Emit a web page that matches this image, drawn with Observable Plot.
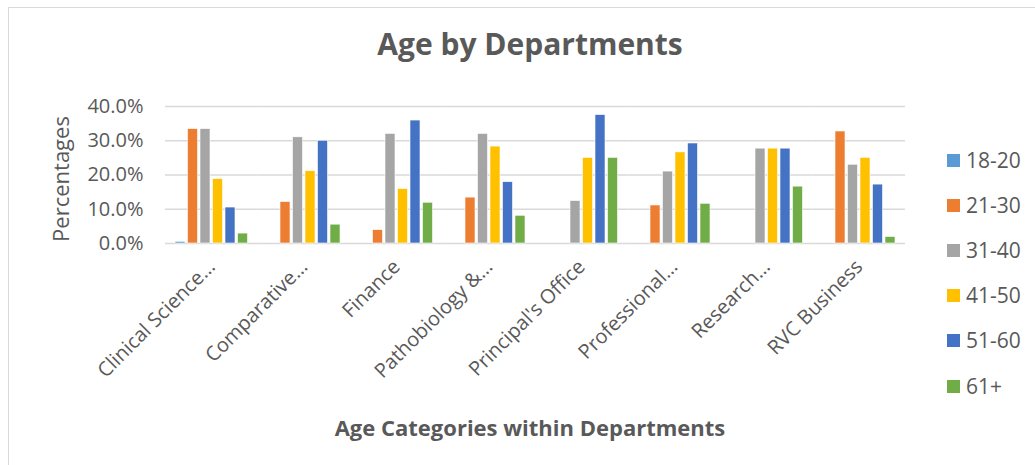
<!DOCTYPE html>
<html>
<head>
<meta charset="utf-8">
<script src="https://cdn.jsdelivr.net/npm/d3@7"></script>
<script src="https://cdn.jsdelivr.net/npm/@observablehq/plot@0.6"></script>
<style>
  body { margin: 0; background: #fff; font-family: "Open Sans", sans-serif; }
  #chart { position: relative; width: 1035px; height: 465px; overflow: hidden; background: #fff; }
  #frame { position: absolute; left: 8px; top: 7px; width: 1200px; height: 700px;
           border-top: 1.5px solid #d9d9d9; border-left: 1.5px solid #d9d9d9; }
  #title { position: absolute; left: 0; width: 1060px; top: 29px; text-align: center;
           font-size: 30px; font-weight: 700; color: #595959; line-height: 1; }
  #xtitle { position: absolute; left: 0; width: 1060px; top: 416px; text-align: center;
            font-size: 22px; font-weight: 700; color: #595959; line-height: 1; }
  #ytitle { position: absolute; left: 60px; top: 179px; transform: translate(-50%, -50%) rotate(-90deg);
            font-size: 22px; color: #595959; line-height: 1; white-space: nowrap; }
  #legend { position: absolute; left: 947px; top: 0; }
  .item { position: absolute; left: 0; display: flex; align-items: center; white-space: nowrap;
          font-size: 21px; color: #595959; line-height: 1; }
  .sw { width: 13px; height: 13px; margin-right: 6px; }
  #plot { position: absolute; left: 0; top: 0; }
</style>
</head>
<body>
<div id="chart">
  <div id="frame"></div>
  <div id="title">Age by Departments</div>
  <div id="plot"></div>
  <div id="ytitle">Percentages</div>
  <div id="legend"></div>
  <div id="xtitle">Age Categories within Departments</div>
</div>
<script>
const departments = ["Clinical Science…", "Comparative…", "Finance", "Pathobiology &…",
                     "Principal's Office", "Professional…", "Research…", "RVC Business"];
const ageGroups = ["18-20", "21-30", "31-40", "41-50", "51-60", "61+"];
const age18_20  = [0.5, 0, 0, 0, 0, 0, 0, 0];
const age21_30  = [33.4, 12.1, 3.9, 13.4, 0, 11.1, 0, 32.7];
const age31_40  = [33.4, 31.0, 32.0, 32.0, 12.4, 21.0, 27.7, 23.0];
const age41_50  = [18.8, 21.1, 15.9, 28.3, 25.0, 26.6, 27.7, 25.0];
const age51_60  = [10.5, 30.0, 35.9, 17.9, 37.5, 29.2, 27.7, 17.2];
const age61plus = [2.9, 5.5, 11.9, 8.1, 25.0, 11.6, 16.6, 1.9];
const yTicks = [0, 10, 20, 30, 40];
const colors = ["#5B9BD5", "#ED7D31", "#A5A5A5", "#FFC000", "#4472C4", "#70AD47"];

const series = [age18_20, age21_30, age31_40, age41_50, age51_60, age61plus];
const data = [];
departments.forEach((dept, i) => {
  ageGroups.forEach((age, j) => {
    const v = series[j][i];
    if (v > 0) data.push({dept, age, value: v});
  });
});

const chart = Plot.plot({
  width: 1035,
  height: 465,
  marginTop: 106,
  marginBottom: 222,
  marginLeft: 165,
  marginRight: 130,
  style: {color: "#595959", fontFamily: "Open Sans", background: "transparent"},
  fx: {domain: departments, padding: 0, round: false, label: null, axis: null},
  x: {domain: ageGroups, paddingInner: 0.2, paddingOuter: 0.8, round: false, axis: null},
  y: {domain: [0, 40], label: null, axis: null},
  color: {domain: ageGroups, range: colors},
  marks: [
    Plot.gridY(yTicks, {stroke: "#d9d9d9", strokeOpacity: 1, strokeWidth: 1.5}),
    Plot.barY(data, {fx: "dept", x: "age", y: "value", fill: "age", stroke: "white", strokeWidth: 0.6}),
    Plot.axisY(yTicks, {
      tickFormat: d => d.toFixed(1) + "%", tickSize: 0, tickPadding: 22, fontSize: 20, label: null
    }),
    Plot.axisFx({anchor: "bottom", tickRotate: -45, tickSize: 0, tickPadding: 20, fontSize: 20, label: null})
  ]
});
document.getElementById("plot").appendChild(chart);

const legend = document.getElementById("legend");
const legendY = [160, 205, 250, 295, 340, 386];
ageGroups.forEach((g, i) => {
  const it = document.createElement("div");
  it.className = "item";
  it.style.top = (legendY[i] - 10) + "px";
  it.style.height = "20px";
  const sw = document.createElement("div");
  sw.className = "sw";
  sw.style.background = colors[i];
  it.appendChild(sw);
  const t = document.createElement("span");
  t.textContent = g;
  it.appendChild(t);
  legend.appendChild(it);
});
</script>
</body>
</html>
